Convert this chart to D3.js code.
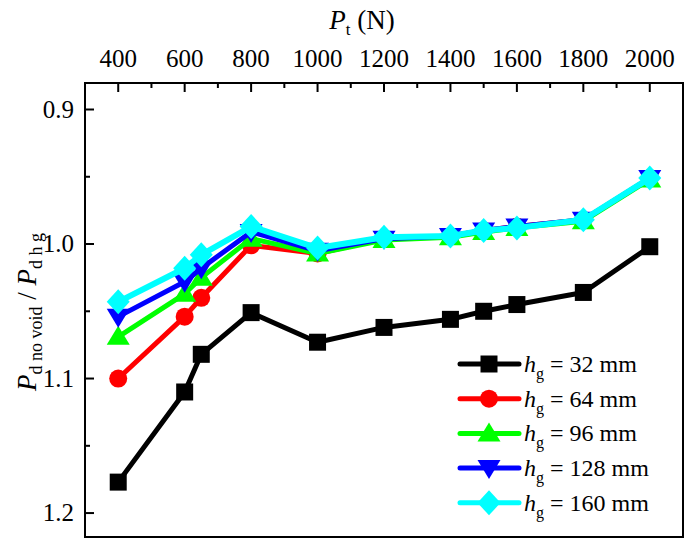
<!DOCTYPE html>
<html><head><meta charset="utf-8">
<script src="https://cdn.jsdelivr.net/npm/d3@7"></script>
<style>body{margin:0;background:#fff}</style></head>
<body><svg id="c" width="685" height="541"></svg>
<script>
const pt = [400, 600, 650, 800, 1000, 1200, 1400, 1500, 1600, 1800, 2000];
const hg32  = [1.177, 1.110, 1.082, 1.051, 1.073, 1.062, 1.056, 1.050, 1.045, 1.036, 1.002];
const hg64  = [1.100, 1.054, 1.040, 1.001, 1.007, 0.996, 0.994, 0.990, 0.987, 0.982, 0.951];
const hg96  = [1.069, 1.037, 1.025, 0.996, 1.007, 0.997, 0.995, 0.991, 0.988, 0.983, 0.952];
const hg128 = [1.054, 1.028, 1.018, 0.991, 1.005, 0.996, 0.994, 0.990, 0.987, 0.982, 0.951];
const hg160 = [1.043, 1.018, 1.008, 0.987, 1.003, 0.995, 0.994, 0.990, 0.988, 0.982, 0.951];
const seriesLabels = ["32 mm", "64 mm", "96 mm", "128 mm", "160 mm"];
const seriesColors = ["#000000", "#ff0000", "#00ff00", "#0000ff", "#00ffff"];
const seriesShapes = ["square", "circle", "triangle", "triangleDown", "diamond"];
const xTicks = [400, 600, 800, 1000, 1200, 1400, 1600, 1800, 2000];
const xMinor = [500, 700, 900, 1100, 1300, 1500, 1700, 1900];
const yTicks = [0.9, 1.0, 1.1, 1.2];
const yMinor = [0.95, 1.05, 1.15];

const allSeries = [hg32, hg64, hg96, hg128, hg160];
const svg = d3.select("#c");
const font = "'Liberation Serif','Times New Roman',serif";
const L = 85, R = 683, T = 83, B = 537;
const x = d3.scaleLinear().domain([300, 2100]).range([L, R]);
const y = d3.scaleLinear().domain([0.8803, 1.2178]).range([T, B]);

// ticks
const tick = svg.append("g").attr("stroke", "#000").attr("stroke-width", 2);
xTicks.forEach(v => tick.append("line").attr("x1", x(v)).attr("x2", x(v)).attr("y1", T).attr("y2", T + 9));
xMinor.forEach(v => tick.append("line").attr("x1", x(v)).attr("x2", x(v)).attr("y1", T).attr("y2", T + 5));
yTicks.forEach(v => tick.append("line").attr("x1", L).attr("x2", L + 9).attr("y1", y(v)).attr("y2", y(v)));
yMinor.forEach(v => tick.append("line").attr("x1", L).attr("x2", L + 5).attr("y1", y(v)).attr("y2", y(v)));

svg.append("g").selectAll("text").data(xTicks).join("text")
  .attr("x", d => x(d)).attr("y", 67).attr("text-anchor", "middle")
  .attr("font-family", font).attr("font-size", 25).text(d => d);
svg.append("g").selectAll("text").data(yTicks).join("text")
  .attr("x", 74).attr("y", d => y(d) + 8).attr("text-anchor", "end")
  .attr("font-family", font).attr("font-size", 25).text(d => d3.format(".1f")(d));

// titles
const xt = svg.append("text").attr("x", 362).attr("y", 29).attr("text-anchor", "middle")
  .attr("font-family", font).attr("font-size", 27);
xt.append("tspan").attr("font-style", "italic").text("P");
xt.append("tspan").attr("font-size", 17).attr("dy", 6).text("t");
xt.append("tspan").attr("dy", -6).text(" (N)");

const yt = svg.append("text").attr("transform", "translate(36,312) rotate(-90)")
  .attr("text-anchor", "middle").attr("font-family", font).attr("font-size", 27);
yt.append("tspan").attr("font-style", "italic").text("P");
yt.append("tspan").attr("font-size", 18).attr("dy", 6).text("d no void");
yt.append("tspan").attr("dy", -6).text(" / ");
yt.append("tspan").attr("font-style", "italic").text("P");
yt.append("tspan").attr("font-size", 18).attr("dy", 6).text("d h g");

function shapePath(s) {
  if (s === "square") return "M-8.5,-8.5H8.5V8.5H-8.5Z";
  if (s === "circle") return "M-9,0A9,9 0 1,0 9,0A9,9 0 1,0 -9,0Z";
  if (s === "triangle") return "M0,-11L11.5,8L-11.5,8Z";
  if (s === "triangleDown") return "M0,11L11.5,-8L-11.5,-8Z";
  return "M0,-12.5L11.5,0L0,12.5L-11.5,0Z";
}

const line = d3.line().x((d, i) => x(pt[i])).y(d => y(d));
allSeries.forEach((vals, si) => {
  const g = svg.append("g");
  g.append("path").attr("d", line(vals)).attr("fill", "none")
    .attr("stroke", seriesColors[si]).attr("stroke-width", si === 4 ? 6 : 5)
    .attr("stroke-linejoin", "round");
  g.selectAll("path.m").data(vals).join("path").attr("class", "m")
    .attr("transform", (d, i) => `translate(${x(pt[i])},${y(d)})`)
    .attr("d", shapePath(seriesShapes[si])).attr("fill", seriesColors[si]);
});

// frame
svg.append("rect").attr("x", L).attr("y", T).attr("width", R - L).attr("height", B - T)
  .attr("fill", "none").attr("stroke", "#000").attr("stroke-width", 2);

// legend
const lg = svg.append("g");
seriesLabels.forEach((lab, i) => {
  const cy = 364 + i * 34.7;
  lg.append("line").attr("x1", 460).attr("x2", 519).attr("y1", cy).attr("y2", cy)
    .attr("stroke", seriesColors[i]).attr("stroke-width", 5).attr("stroke-linecap", "round");
  lg.append("path").attr("transform", `translate(489,${cy})`).attr("d", shapePath(seriesShapes[i]))
    .attr("fill", seriesColors[i]);
  const t = lg.append("text").attr("x", 524).attr("y", cy + 8).attr("font-family", font).attr("font-size", 24);
  t.append("tspan").attr("font-style", "italic").text("h");
  t.append("tspan").attr("font-size", 16).attr("dy", 7).text("g");
  t.append("tspan").attr("dy", -7).text(" = " + lab);
});
</script></body></html>
